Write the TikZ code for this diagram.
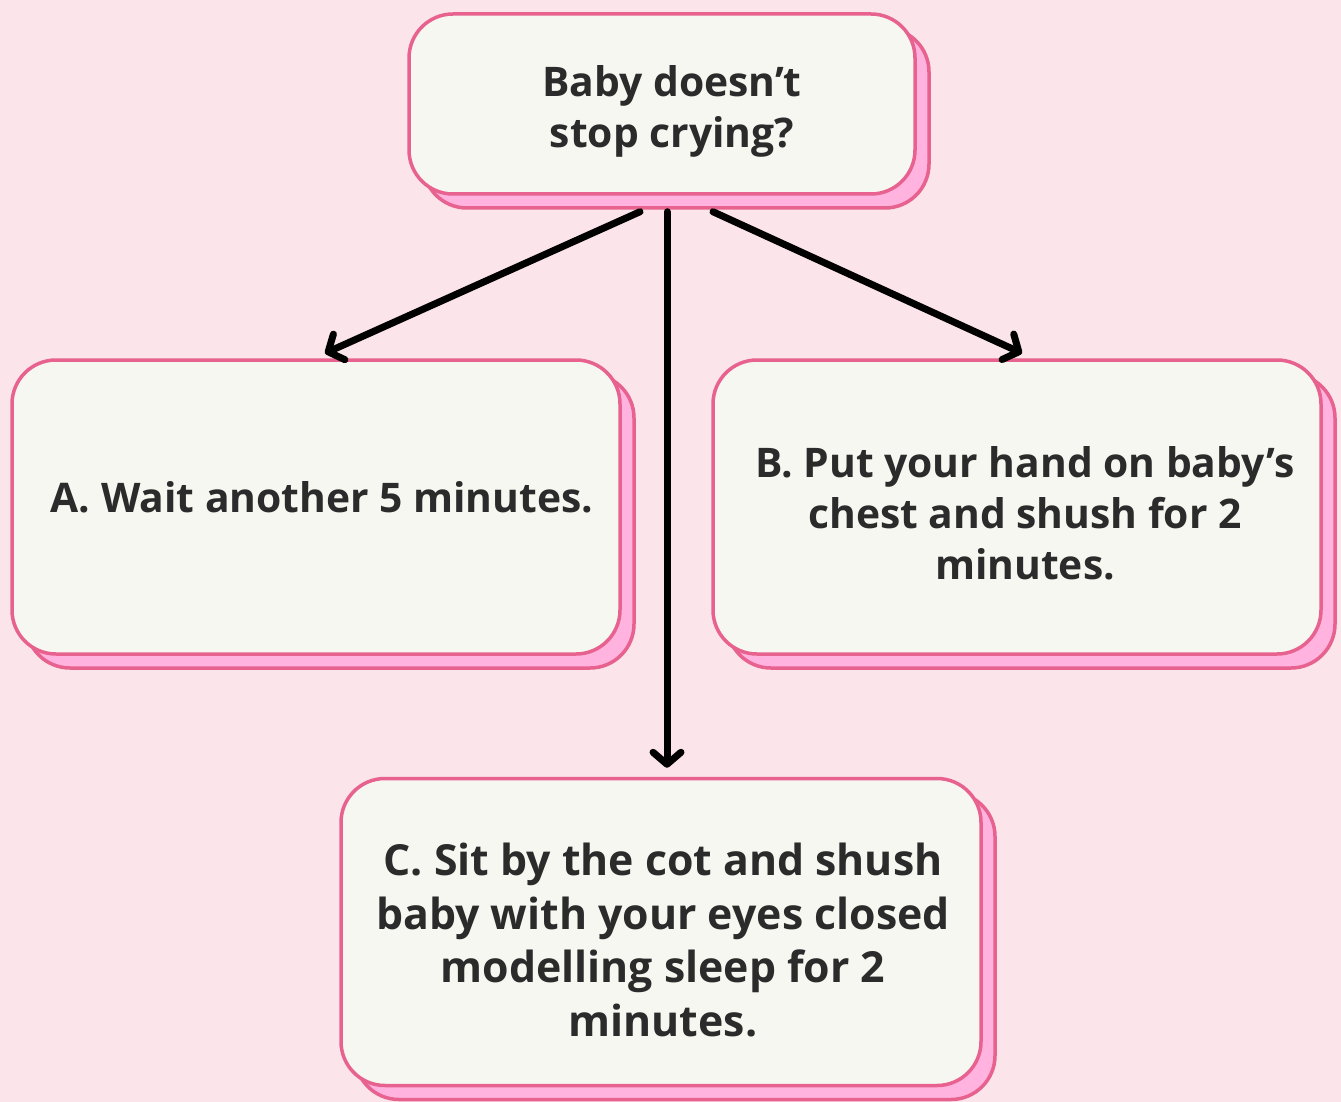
\documentclass[tikz,border=0pt]{standalone}
\usepackage{fontspec}
\setmainfont{Open Sans}
\usetikzlibrary{arrows.meta,shadows,calc}
\definecolor{bgpink}{HTML}{FBE4EA}
\definecolor{borderpink}{HTML}{E8628F}
\definecolor{shadowpink}{HTML}{FFB3DE}
\definecolor{boxfill}{HTML}{F7F7F2}
\definecolor{txt}{HTML}{2B2B2B}
\tikzset{
  card/.style={rectangle, rounded corners=44pt, draw=borderpink, fill=boxfill, line width=3.5pt,
    general shadow={shadow xshift=14pt, shadow yshift=-14pt, fill=shadowpink, draw=borderpink, line width=3.5pt}},
  cardtext/.style={align=center, text=txt, font=\fontsize{40.8}{51}\selectfont\bfseries, inner sep=0pt},
  bigtext/.style={cardtext, font=\fontsize{42.8}{53.5}\selectfont\bfseries},
  flow/.style={line width=7pt, draw=black, line cap=round, -{Straight Barb[length=12pt,width=28pt,line width=7pt,round]}}
}
\begin{document}
\begin{tikzpicture}[x=1pt,y=-1pt]
\fill[bgpink] (0,0) rectangle (1341,1102);
\useasboundingbox (0,0) rectangle (1341,1102);
\node[card, minimum width=506pt, minimum height=180pt] (top) at (662,104) {};
\node[card, minimum width=608pt, minimum height=294pt] (A) at (316,507) {};
\node[card, minimum width=608pt, minimum height=294pt] (B) at (1017,507) {};
\node[card, minimum width=640pt, minimum height=307pt] (C) at (661,932) {};
\node[cardtext] (toptxt) at (672,111) {Baby doesn’t\\stop crying?};
\node[cardtext] (Atxt) at (322,497) {A. Wait another 5 minutes.};
\node[cardtext] (Btxt) at (1025,513) {B. Put your hand on baby’s\\chest and shush for 2\\minutes.};
\node[bigtext] (Ctxt) at (663,940) {C. Sit by the cot and shush\\baby with your eyes closed\\modelling sleep for 2\\minutes.};
\draw[flow] ($(top.south)+(-22,16)$) -- ($(A.north)+(9,-5)$);
\draw[flow] ($(top.south)+(5,16)$) -- ($(C.north)+(6,-9)$);
\draw[flow] ($(top.south)+(51,16)$) -- ($(B.north)+(5,-5)$);
\end{tikzpicture}
\end{document}
